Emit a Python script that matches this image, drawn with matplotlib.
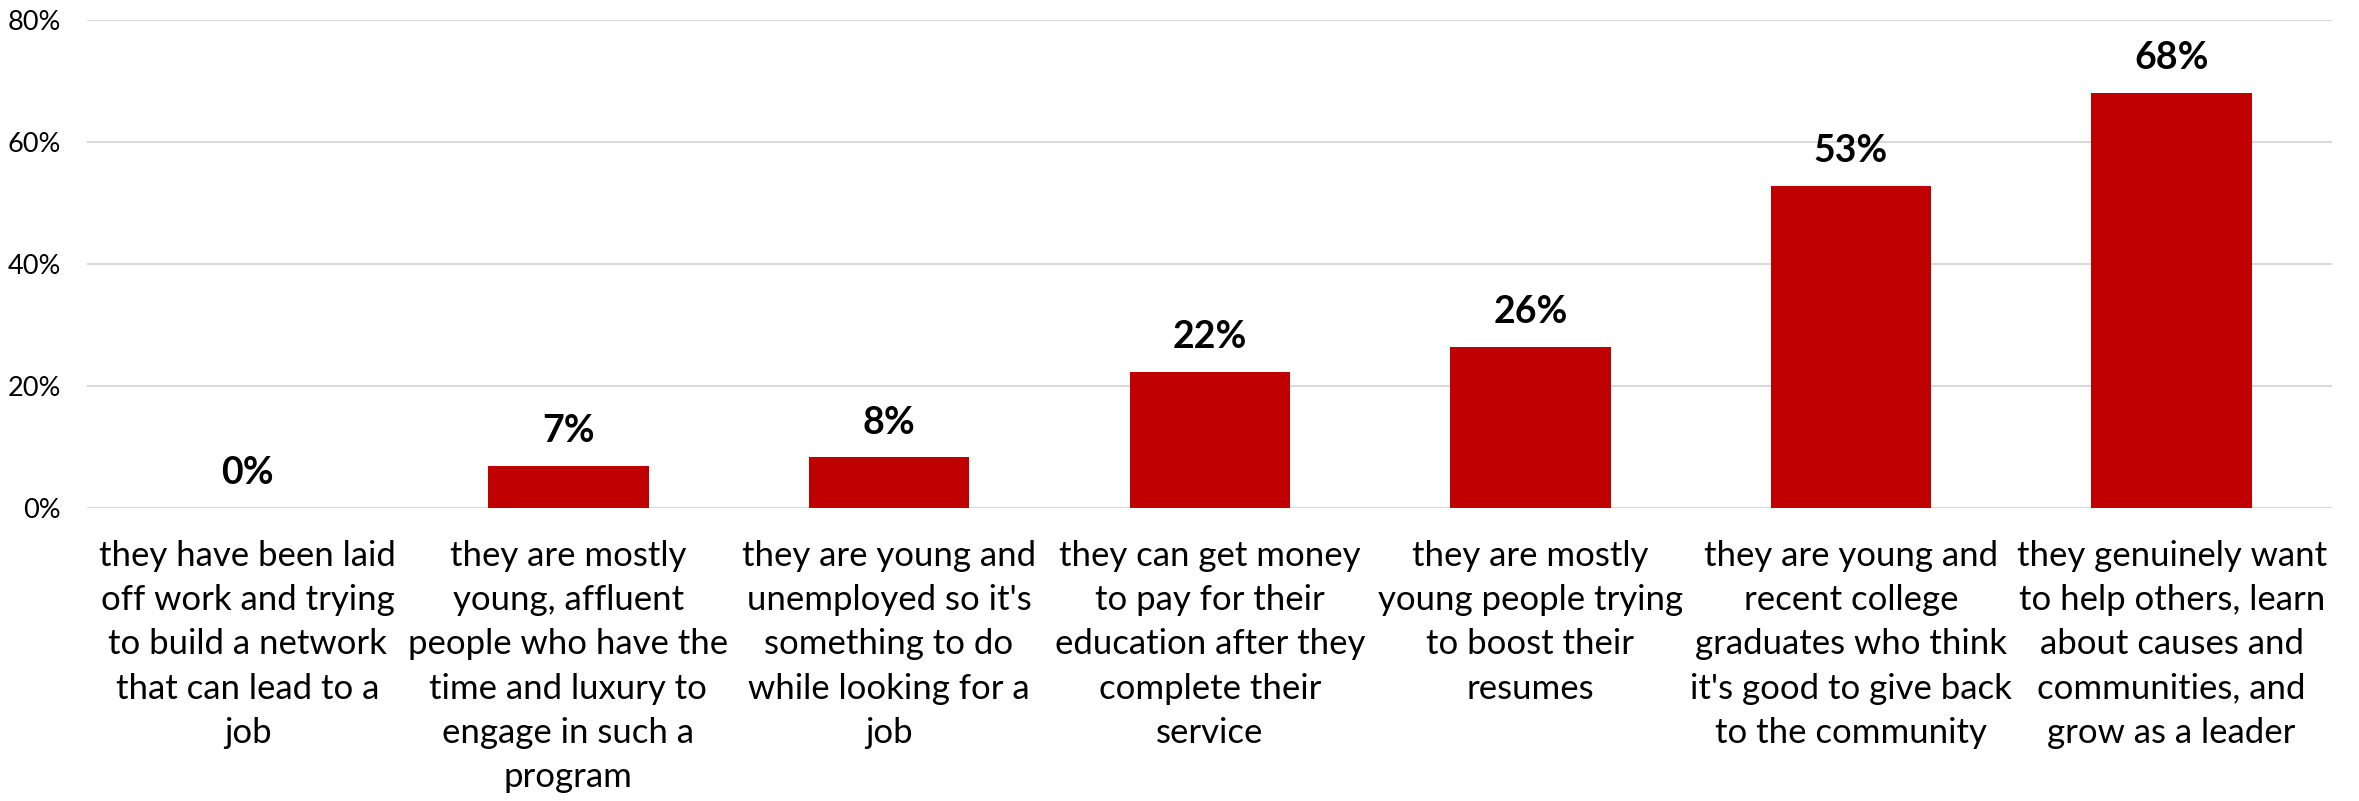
import matplotlib
matplotlib.use("Agg")
import matplotlib.pyplot as plt
from matplotlib.ticker import FuncFormatter

plt.rcParams['font.family'] = ['Lato', 'DejaVu Sans']

# Survey responses: why people join the program (share of respondents, %)
categories = [
    "they have been laid\noff work and trying\nto build a network\nthat can lead to a\njob",
    "they are mostly\nyoung, affluent\npeople who have the\ntime and luxury to\nengage in such a\nprogram",
    "they are young and\nunemployed so it's\nsomething to do\nwhile looking for a\njob",
    "they can get money\nto pay for their\neducation after they\ncomplete their\nservice",
    "they are mostly\nyoung people trying\nto boost their\nresumes",
    "they are young and\nrecent college\ngraduates who think\nit's good to give back\nto the community",
    "they genuinely want\nto help others, learn\nabout causes and\ncommunities, and\ngrow as a leader",
]
values = [0.0, 6.9, 8.3, 22.3, 26.4, 52.8, 68.1]
y_ticks = [0, 20, 40, 60, 80]

BAR_COLOR = "#C00000"
GRID_COLOR = "#D9D9D9"

fig = plt.figure(figsize=(23.59, 8.01), dpi=100)
ax = fig.add_axes([0.03705, 0.36579, 0.9515, 0.60924])

x = list(range(len(categories)))
ax.bar(x, values, width=0.5, color=BAR_COLOR, zorder=3)

ax.set_xlim(-0.5, len(categories) - 0.5)
ax.set_ylim(0, 80)
ax.set_yticks(y_ticks)
ax.yaxis.set_major_formatter(FuncFormatter(lambda v, _: f"{v:.0f}%"))
ax.grid(axis='y', color=GRID_COLOR, linewidth=1.5, zorder=0)
ax.set_axisbelow(True)
for s in ax.spines.values():
    s.set_visible(False)

ax.set_xticks(x)
ax.set_xticklabels(categories, fontsize=25, linespacing=1.47, color='black')
ax.tick_params(axis='x', length=0, pad=23)
ax.tick_params(axis='y', length=0, pad=19, labelsize=19.5, labelcolor='black')

# value labels above each bar
for xi, v in zip(x, values):
    ax.annotate(f"{v:.0f}%", xy=(xi, v), xytext=(0, 17), textcoords='offset points',
                ha='center', va='baseline', fontsize=27, fontweight='bold', color='black')

fig.savefig("out.png", dpi=100, facecolor='white')
